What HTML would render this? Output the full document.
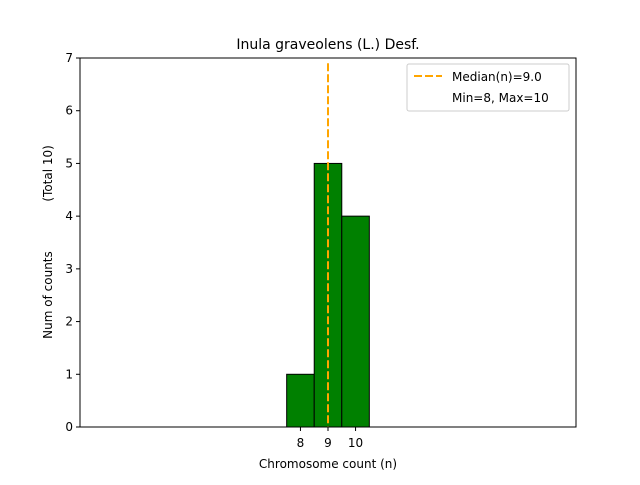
<!DOCTYPE html>
<html><head><meta charset="utf-8"><style>
body{margin:0;background:#fff;font-family:"Liberation Sans","DejaVu Sans",sans-serif;}
svg text{font-family:"DejaVu Sans","Liberation Sans",sans-serif;}
</style></head><body>
<svg id="chart" width="640" height="480" viewBox="0 0 640 480" xmlns="http://www.w3.org/2000/svg">
<rect width="640" height="480" fill="#fff"/>
<g id="bars"></g>
<g id="yticks"></g>
<g id="xticks"></g>
<line id="median" stroke="#ffa500" stroke-width="2" stroke-dasharray="8,3"/>
<rect x="80" y="58" width="496" height="369" fill="none" stroke="#000" stroke-width="1"/>
<text x="328" y="49" font-size="14" text-anchor="middle">Inula graveolens (L.) Desf.</text>
<text x="328" y="468" font-size="12" text-anchor="middle">Chromosome count (n)</text>
<text transform="translate(52,242) rotate(-90)" font-size="12" text-anchor="middle" style="white-space:pre">Num of counts             (Total 10)</text>
<g>
<rect x="407" y="64" width="162" height="47" rx="2" fill="#fff" stroke="#ccc"/>
<line x1="414" y1="76" x2="442" y2="76" stroke="#ffa500" stroke-width="2" stroke-dasharray="8,3"/>
<text x="452" y="81" font-size="12">Median(n)=9.0</text>
<text x="452" y="102" font-size="12">Min=8, Max=10</text>
</g>
</svg>
<script>
const categories=[8,9,10];
const counts=[1,5,4];
const yTicks=[0,1,2,3,4,5,6,7];
const xTickLabels=[8,9,10];
const medianValue=9.0;
const X0=80,X1=576,Y0=427,Y1=58,XMIN=0,XMAX=18,YMAX=7;
const xs=v=>X0+(v-XMIN)/(XMAX-XMIN)*(X1-X0);
const ys=v=>Y0-v/YMAX*(Y0-Y1);
const NS="http://www.w3.org/2000/svg";
const bars=document.getElementById('bars');
const base=document.createElementNS(NS,'line');


base.setAttribute('x1',xs(0));base.setAttribute('x2',xs(13.5));
base.setAttribute('y1',Y0);base.setAttribute('y2',Y0);base.setAttribute('stroke','#000');
bars.appendChild(base);
categories.forEach((c,i)=>{
 const r=document.createElementNS(NS,'rect');
 
 
 r.setAttribute('x',xs(c-0.5));r.setAttribute('width',xs(c+0.5)-xs(c-0.5));
 r.setAttribute('y',ys(counts[i]));r.setAttribute('height',Y0-ys(counts[i]));
 r.setAttribute('fill','#008000');r.setAttribute('stroke','#000');
 bars.appendChild(r);
});
const yt=document.getElementById('yticks');
yTicks.forEach(v=>{
 const l=document.createElementNS(NS,'line');
 
 
 l.setAttribute('x1',X0-4);l.setAttribute('x2',X0);l.setAttribute('y1',ys(v));l.setAttribute('y2',ys(v));l.setAttribute('stroke','#000');
 yt.appendChild(l);
 const t=document.createElementNS(NS,'text');
 
 
 t.setAttribute('x',X0-7);t.setAttribute('y',ys(v)+4);t.setAttribute('font-size','12');t.setAttribute('text-anchor','end');
 t.textContent=v;yt.appendChild(t);
});
const xt=document.getElementById('xticks');
xTickLabels.forEach(v=>{
 const l=document.createElementNS(NS,'line');
 
 
 l.setAttribute('x1',xs(v));l.setAttribute('x2',xs(v));l.setAttribute('y1',Y0);l.setAttribute('y2',Y0+4);l.setAttribute('stroke','#000');
 xt.appendChild(l);
 const t=document.createElementNS(NS,'text');
 
 
 t.setAttribute('x',xs(v));t.setAttribute('y',Y0+20);t.setAttribute('font-size','12');t.setAttribute('text-anchor','middle');
 t.textContent=v;xt.appendChild(t);
});
const m=document.getElementById('median');
m.setAttribute('x1',xs(medianValue));m.setAttribute('x2',xs(medianValue));
m.setAttribute('y1',ys(6.9));m.setAttribute('y2',Y0);
</script>
</body></html>
